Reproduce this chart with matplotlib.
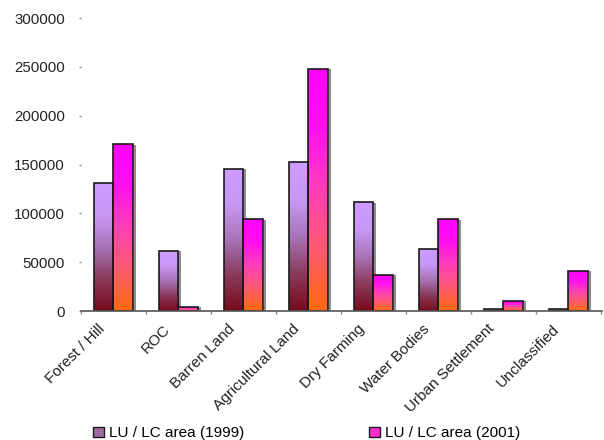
import numpy as np
import matplotlib
matplotlib.use("Agg")
import matplotlib.pyplot as plt
import matplotlib.transforms as mtransforms
from matplotlib.colors import LinearSegmentedColormap
from matplotlib.patches import Patch

plt.rcParams['font.family'] = ['Liberation Sans', 'DejaVu Sans']

categories = ["Forest / Hill", "ROC", "Barren Land", "Agricultural Land",
              "Dry Farming", "Water Bodies", "Urban Settlement", "Unclassified"]
area_1999 = [131000, 61500, 145500, 152500, 111500, 63500, 2000, 2000]
area_2001 = [171000, 4500, 94000, 248000, 37000, 94000, 10500, 41000]
series_labels = ["LU / LC area (1999)", "LU / LC area (2001)"]
y_ticks = [0, 50000, 100000, 150000, 200000, 250000, 300000]

# gradients: index 0 = bottom, 1 = top
cmap_1999 = LinearSegmentedColormap.from_list(
    "c99", ["#780a1c", "#8a3a5a", "#a874b8", "#c898f6", "#cc9cff"])
cmap_2001 = LinearSegmentedColormap.from_list(
    "c01", ["#ff6a10", "#ff5a70", "#ff40b8", "#ff10f0", "#ff00ff"])

fig = plt.figure(figsize=(6.04, 4.4), dpi=100)
ax = fig.add_axes([0.134, 0.293, 0.863, 0.666])

x = np.arange(len(categories))
w = 0.3
grad = np.linspace(0, 1, 256).reshape(-1, 1)

for vals, offs, cmap in [(area_1999, -w / 2, cmap_1999), (area_2001, w / 2, cmap_2001)]:
    # soft grey shadow outline
    ax.bar(x + offs + 0.025, vals, w, bottom=-1500, facecolor="none",
           edgecolor="#8a8a8a", linewidth=1.4, zorder=2)
    bars = ax.bar(x + offs, vals, w, facecolor="none", edgecolor="#1a1a1a",
                  linewidth=1.2, zorder=4)
    for b in bars:
        x0, h, bw = b.get_x(), b.get_height(), b.get_width()
        im = ax.imshow(grad, extent=[x0, x0 + bw, 0, h], origin="lower",
                       aspect="auto", cmap=cmap, zorder=3)
        im.set_clip_path(b)

ax.set_xlim(-0.5, len(categories) - 0.5 + 0.02)
ax.set_ylim(0, 300000)

for s in ["top", "right", "left"]:
    ax.spines[s].set_visible(False)
ax.spines["bottom"].set_color("#555555")
ax.spines["bottom"].set_linewidth(1.2)
ax.spines["bottom"].set_zorder(5)

ax.set_yticks(y_ticks)
ax.set_yticklabels([str(v) for v in y_ticks])
ax.tick_params(axis="y", length=1.5, width=1, color="#888888", pad=10,
               labelsize=10.8, labelcolor="#222222")

ax.set_xticks(x)
ax.set_xticklabels(categories, rotation=45, ha="right", rotation_mode="anchor")
ax.tick_params(axis="x", length=0, pad=7, labelsize=11, labelcolor="#222222")
ax.set_xticks(np.arange(len(categories) + 1) - 0.5, minor=True)
ax.tick_params(axis="x", which="minor", length=2, width=1, color="#888888")
shift = mtransforms.ScaledTranslation(-16 / 100, -1 / 100, fig.dpi_scale_trans)
for lbl in ax.get_xticklabels():
    lbl.set_transform(lbl.get_transform() + shift)

handles = [Patch(facecolor=cmap_1999(0.45), edgecolor="#1a1a1a", label=series_labels[0]),
           Patch(facecolor=cmap_2001(0.6), edgecolor="#1a1a1a", label=series_labels[1])]
fig.legend(handles=handles, loc="lower left", bbox_to_anchor=(0.132, -0.032),
           ncol=2, frameon=False, fontsize=11, columnspacing=8.2,
           handlelength=0.7, handleheight=0.7, handletextpad=0.3)

fig.savefig("out.png", dpi=100)
